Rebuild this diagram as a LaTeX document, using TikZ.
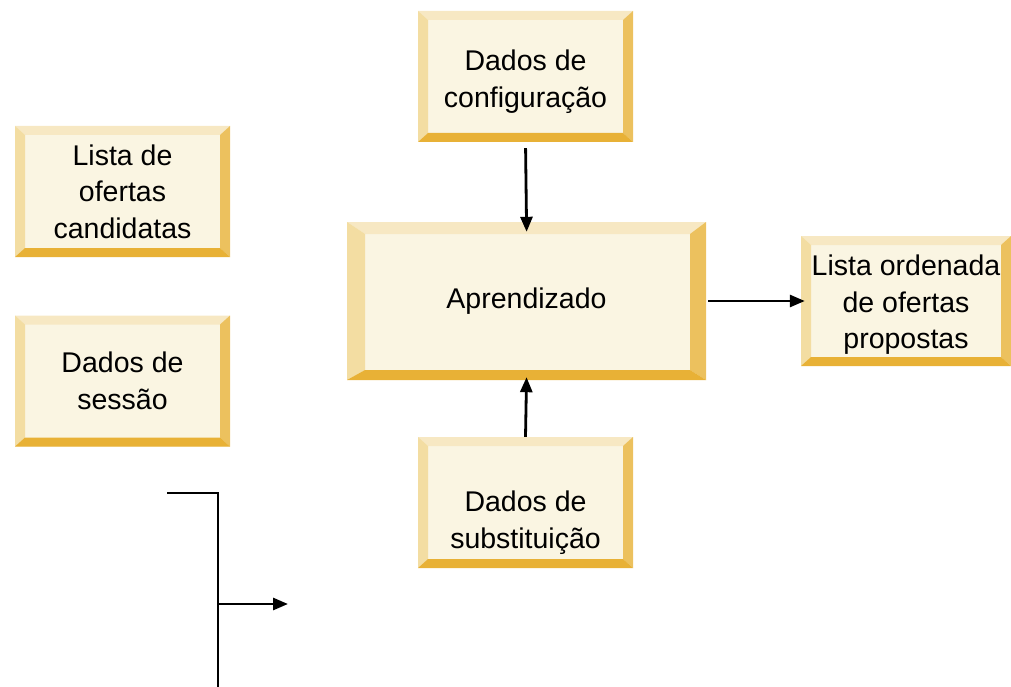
\documentclass[tikz,border=0pt]{standalone}
\usepackage{fontspec}
\setmainfont{Liberation Sans}
\usetikzlibrary{arrows.meta}
\definecolor{inner}{HTML}{FAF5E2}
\definecolor{bevtop}{HTML}{F7E8C3}
\definecolor{bevleft}{HTML}{F3DDA2}
\definecolor{bevright}{HTML}{ECC15E}
\definecolor{bevbot}{HTML}{E8B136}
\tikzset{
  txt/.style={align=center, inner sep=0pt, font=\fontsize{28.5}{36.5}\selectfont},
  bevbox/.style n args={6}{
    draw=none, fill=inner, inner sep=0pt, txt,
    minimum width=#1, minimum height=#2,
    path picture={
      \def\ppb{path picture bounding box}
      \fill[bevtop] (\ppb.north west) -- (\ppb.north east) -- ([shift={(-#5,-#4)}]\ppb.north east) -- ([shift={(#3,-#4)}]\ppb.north west) -- cycle;
      \fill[bevleft] (\ppb.north west) -- ([shift={(#3,-#4)}]\ppb.north west) -- ([shift={(#3,#6)}]\ppb.south west) -- (\ppb.south west) -- cycle;
      \fill[bevright] (\ppb.north east) -- ([shift={(-#5,-#4)}]\ppb.north east) -- ([shift={(-#5,#6)}]\ppb.south east) -- (\ppb.south east) -- cycle;
      \fill[bevbot] (\ppb.south west) -- ([shift={(#3,#6)}]\ppb.south west) -- ([shift={(-#5,#6)}]\ppb.south east) -- (\ppb.south east) -- cycle;
    }},
  smallbox/.style={bevbox={215pt}{131pt}{10pt}{9pt}{10pt}{9pt}},
  conn/.style={line width=2.8pt, -{Triangle[length=15pt,width=12pt]}},
  plain/.style={line width=2.8pt}
}
\begin{document}
\begin{tikzpicture}[x=1pt,y=-1pt]
\useasboundingbox (0,0) rectangle (1011,687);
\node[smallbox] (lista) at (122.5,191.5) {Lista de\\ofertas\\candidatas};
\node[smallbox] (sessao) at (122.5,381) {Dados de\\sessão};
\node[smallbox, label={[txt,yshift=-5pt]center:Dados de\\configuração}] (config) at (525.5,76.5) {};
\node[bevbox={359pt}{158pt}{18pt}{12pt}{16pt}{10pt}] (aprend) at (526.5,301) {Aprendizado};
\node[bevbox={210pt}{130pt}{10pt}{9pt}{10pt}{9pt}, label={[txt,yshift=-4pt]center:Lista ordenada\\de ofertas\\propostas}] (ordenada) at (906,301) {};
\node[smallbox, label={[txt,yshift=-20pt]center:Dados de\\substituição}] (subst) at (525.5,502.5) {};
\draw[conn, shorten <=6pt, shorten >=-10pt] (config.south) -- (aprend.north);
\draw[conn, shorten >=-3pt] (subst.north) -- (aprend.south);
\draw[conn, shorten <=2pt, shorten >=-4pt] (aprend.east) -- (ordenada.west);
\coordinate (b1) at (167,493);
\coordinate (b2) at (218,493);
\coordinate (b3) at (218,687);
\coordinate (b4) at (218,604);
\coordinate (b5) at (288,604);
\draw[plain] (b1) -- (b2) -- (b3);
\draw[conn] (b4) -- (b5);
\end{tikzpicture}
\end{document}
